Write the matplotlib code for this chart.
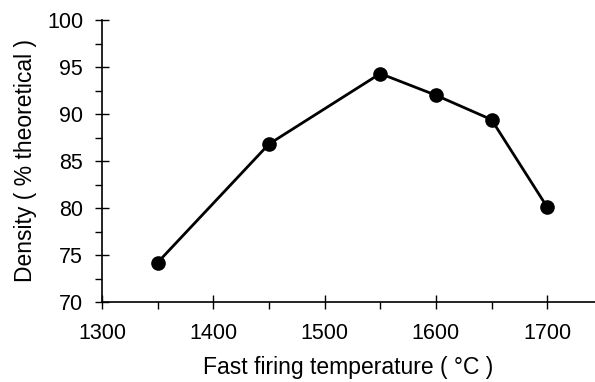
import matplotlib.pyplot as plt
from matplotlib.ticker import MultipleLocator

plt.rcParams['font.family'] = ['Liberation Sans', 'DejaVu Sans']

temperature = [1350, 1450, 1550, 1600, 1650, 1700]
density = [74.2, 86.8, 94.3, 92.0, 89.4, 80.1]

fig = plt.figure(figsize=(5.95, 3.82), dpi=100)
ax = fig.add_axes([102/595, 1-302/382, (595-102)/595, 282/382])

ax.plot(temperature, density, c="black", lw=2, marker="o", ms=9.5)

ax.set_xlim(1300, 1743)
ax.set_ylim(70, 100)
ax.xaxis.set_major_locator(MultipleLocator(100))
ax.xaxis.set_minor_locator(MultipleLocator(50))
ax.yaxis.set_major_locator(MultipleLocator(5))
ax.yaxis.set_minor_locator(MultipleLocator(2.5))
ax.tick_params(which="major", direction="inout", length=10, width=1, labelsize=15.5, pad=10)
ax.tick_params(which="minor", direction="out", length=5, width=1)
ax.tick_params(axis="y", which="major", pad=8.5)

ax.spines["top"].set_visible(False)
ax.spines["right"].set_visible(False)
for s in ["left", "bottom"]:
    ax.spines[s].set_linewidth(1.2)

ax.set_xlabel("Fast firing temperature ( °C )", fontsize=16.5, labelpad=9)
ax.set_ylabel("Density ( % theoretical )", fontsize=16.5, labelpad=7)

fig.savefig("out.png", dpi=100)
